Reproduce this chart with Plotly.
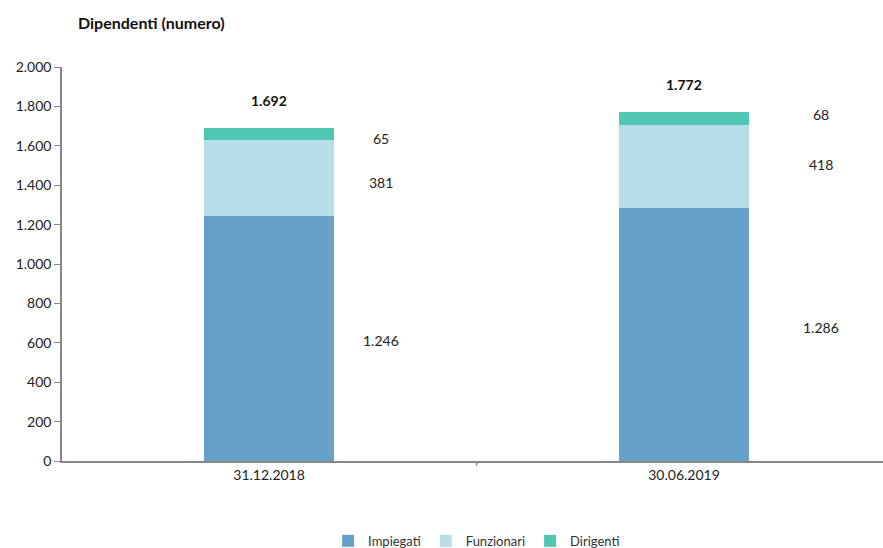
import plotly.graph_objects as go

# Workforce by grade at two reporting dates
dates = ["31.12.2018", "30.06.2019"]
impiegati = [1246, 1286]
funzionari = [381, 418]
dirigenti = [65, 68]
totali = [1692, 1772]

series = [
    ("Impiegati", impiegati, "#65A1C9"),
    ("Funzionari", funzionari, "#B7DEE8"),
    ("Dirigenti", dirigenti, "#4FC7B3"),
]

FONT = "Lato, 'DejaVu Sans', sans-serif"


def fmt(v):
    return f"{v:,}".replace(",", ".")


fig = go.Figure()
for name, vals, color in series:
    fig.add_trace(go.Bar(
        x=[0, 1], y=vals, name=name, width=0.313,
        marker=dict(color=color, line=dict(width=0)),
        hoverinfo="skip",
    ))

# Segment labels sit to the right of each bar, near the middle of the segment
label_dx = [112, 137]                      # pixel offset right of bar centre
label_dy = [[-2, -4, -4], [7, 2, 4]]       # pixel nudges per segment
for i in range(len(dates)):
    base = 0
    for j, (_, vals, _) in enumerate(series):
        v = vals[i]
        mid = base + v / 2
        base += v
        fig.add_annotation(
            x=i, y=mid, text=fmt(v), showarrow=False,
            xshift=label_dx[i], yshift=label_dy[i][j],
            font=dict(family=FONT, size=14, color="#222"),
        )
    fig.add_annotation(
        x=i, y=totali[i], text=f"<b>{fmt(totali[i])}</b>",
        showarrow=False, yshift=27,
        font=dict(family=FONT, size=14, color="#111"),
    )

fig.add_annotation(
    xref="paper", yref="paper", x=0.017, y=1.114, xanchor="left", yanchor="middle",
    text="<b>Dipendenti (numero)</b>", showarrow=False,
    font=dict(family=FONT, size=16, color="#111"),
)

fig.update_layout(
    width=883, height=548,
    margin=dict(l=62, r=0, t=67, b=87),
    barmode="stack",
    separators=",.",
    plot_bgcolor="white", paper_bgcolor="white",
    font=dict(family=FONT, size=14, color="#222"),
    showlegend=True,
    legend=dict(
        orientation="h", x=0.505, xanchor="center",
        yref="container", y=0.013, yanchor="middle",
        font=dict(family=FONT, size=13, color="#333"),
        traceorder="normal", itemwidth=30,
    ),
)

fig.update_xaxes(
    range=[-0.499, 1.4795],
    tickmode="array", tickvals=[0, 1], ticktext=dates,
    showline=True, linecolor="#888", linewidth=1.5,
    ticks="", showgrid=False, zeroline=False,
    tickfont=dict(family=FONT, size=14),
)
# boundary tick between the two categories
fig.add_shape(type="line", xref="x", yref="paper", x0=0.5, x1=0.5, y0=0, y1=-0.012,
              line=dict(color="#888", width=1.5))

fig.update_yaxes(
    range=[0, 2000], dtick=200, tickformat=",d",
    showline=True, linecolor="#888", linewidth=1.5,
    ticks="outside", ticklen=6, tickcolor="#888",
    showgrid=False, zeroline=False,
    tickfont=dict(family=FONT, size=14),
)

fig.write_html("out.html")
